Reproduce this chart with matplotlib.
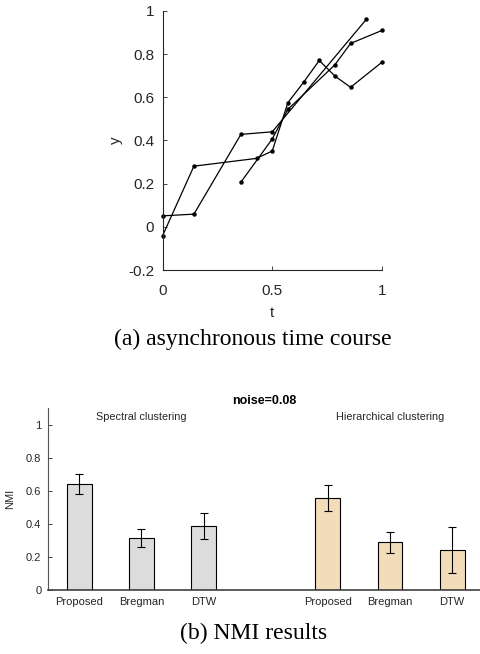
import matplotlib
matplotlib.use("Agg")
import matplotlib.pyplot as plt

# (a) asynchronous time courses, three series sampled at different times
t_a = [0, 2/14, 5/14, 7/14, 13/14]
y_a = [0.051, 0.059, 0.428, 0.44, 0.96]
t_b = [0, 2/14, 6/14, 7/14, 8/14, 9/14, 10/14, 11/14, 12/14, 1]
y_b = [-0.041, 0.281, 0.317, 0.351, 0.575, 0.669, 0.770, 0.698, 0.646, 0.762]
t_c = [5/14, 7/14, 8/14, 11/14, 12/14, 1]
y_c = [0.207, 0.407, 0.544, 0.75, 0.849, 0.909]

# (b) NMI results
methods = ["Proposed", "Bregman", "DTW"]
spectral_nmi = [0.642, 0.315, 0.390]
spectral_err = [0.059, 0.053, 0.079]
hier_nmi = [0.558, 0.289, 0.242]
hier_err = [0.078, 0.064, 0.142]

plt.rcParams['font.family'] = ['Liberation Sans', 'DejaVu Sans']
axis_col = '#262626'

fig = plt.figure(figsize=(4.81, 6.54), dpi=100)

# top panel
ax1 = fig.add_axes([0.338, 0.587, 0.456, 0.3965])
for t, y in [(t_a, y_a), (t_b, y_b), (t_c, y_c)]:
    ax1.plot(t, y, '-', color='black', lw=0.9, marker='o', ms=2.2,
             clip_on=False)
ax1.set_xlim(0, 1)
ax1.set_ylim(-0.2, 1)
ax1.set_xticks([0, 0.5, 1])
ax1.set_xticklabels(['0', '0.5', '1'])
ax1.set_yticks([-0.2, 0, 0.2, 0.4, 0.6, 0.8, 1])
ax1.set_yticklabels(['-0.2', '0', '0.2', '0.4', '0.6', '0.8', '1'])
for s in ['top', 'right']:
    ax1.spines[s].set_visible(False)
for s in ['left', 'bottom']:
    ax1.spines[s].set_color(axis_col)
    ax1.spines[s].set_linewidth(0.8)
ax1.tick_params(direction='in', length=3, width=0.6, colors=axis_col,
                labelsize=11, pad=6)
ax1.tick_params(axis='x', pad=10)
ax1.set_xlabel('t', fontsize=11, color=axis_col, labelpad=6)
ax1.set_ylabel('y', fontsize=11, color=axis_col, labelpad=4)

fig.text(0.526, 0.4817, '(a) asynchronous time course', ha='center',
         va='center', fontsize=17, family='Liberation Serif')

# bottom panel
ax2 = fig.add_axes([0.1004, 0.0979, 0.8976, 0.2778])
pos_s = [1, 2, 3]
pos_h = [5, 6, 7]
ax2.bar(pos_s, spectral_nmi, width=0.4, color='#dcdcdc', edgecolor='black',
        linewidth=0.8)
ax2.bar(pos_h, hier_nmi, width=0.4, color='#f3dcb9', edgecolor='black',
        linewidth=0.8)
ax2.errorbar(pos_s, spectral_nmi, yerr=spectral_err, fmt='none',
             ecolor='black', elinewidth=0.8, capsize=3, capthick=0.8)
ax2.errorbar(pos_h, hier_nmi, yerr=hier_err, fmt='none',
             ecolor='black', elinewidth=0.8, capsize=3, capthick=0.8)
ax2.set_xlim(0.5, 7.45)
ax2.set_ylim(0, 1.1)
ax2.set_xticks(pos_s + pos_h)
ax2.set_xticklabels(methods + methods)
ax2.set_yticks([0, 0.2, 0.4, 0.6, 0.8, 1])
ax2.set_yticklabels(['0', '0.2', '0.4', '0.6', '0.8', '1'])
for s in ['top', 'right']:
    ax2.spines[s].set_visible(False)
ax2.spines['left'].set_color('#555555')
ax2.spines['left'].set_linewidth(0.8)
ax2.spines['bottom'].set_color('#404040')
ax2.spines['bottom'].set_linewidth(1.2)
ax2.tick_params(axis='y', direction='in', length=3, width=0.6,
                colors=axis_col, labelsize=8, pad=5)
ax2.tick_params(axis='x', length=0, colors=axis_col, labelsize=8, pad=5)
ax2.set_ylabel('NMI', fontsize=8, color=axis_col, labelpad=8)
ax2.set_title('noise=0.08', fontsize=9, fontweight='bold', pad=3)
ax2.text(2, 1.05, 'Spectral clustering', ha='center', va='center',
         fontsize=7.8, color=axis_col)
ax2.text(6, 1.05, 'Hierarchical clustering', ha='center', va='center',
         fontsize=7.8, color=axis_col)

fig.text(0.528, 0.032, '(b) NMI results', ha='center', va='center',
         fontsize=17, family='Liberation Serif')

fig.savefig('out.png', dpi=100)
